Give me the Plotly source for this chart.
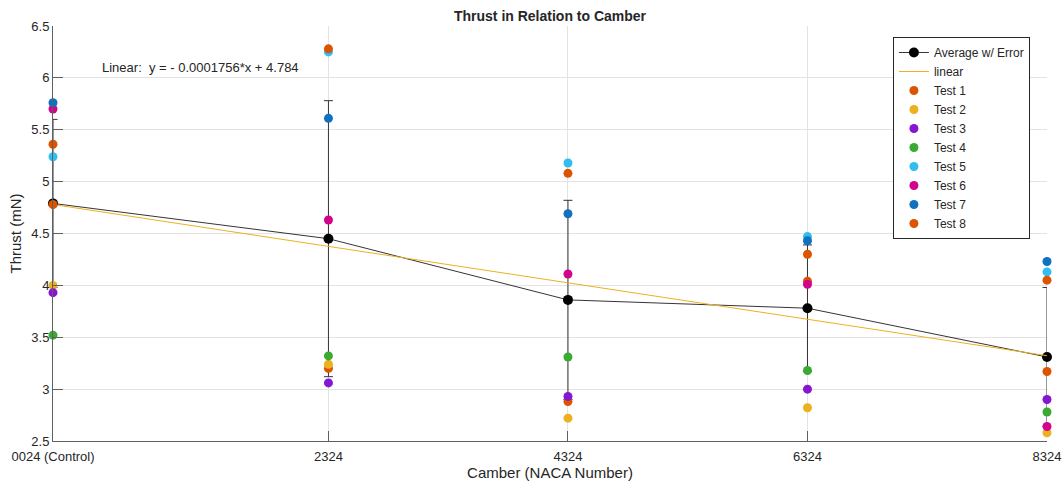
import plotly.graph_objects as go

# ---- data ----
camber_x = [24, 2324, 4324, 6324, 8324]
camber_labels = ["0024 (Control)", "2324", "4324", "6324", "8324"]

test_1 = [5.36, 3.20, 2.88, 4.04, 3.17]
test_2 = [4.00, 3.24, 2.72, 2.82, 2.58]
test_3 = [3.93, 3.06, 2.93, 3.00, 2.90]
test_4 = [3.52, 3.32, 3.31, 3.18, 2.78]
test_5 = [5.24, 6.25, 5.18, 4.47, 4.13]
test_6 = [5.70, 4.63, 4.11, 4.01, 2.64]
test_7 = [5.76, 5.61, 4.69, 4.43, 4.23]
test_8 = [4.78, 6.28, 5.08, 4.30, 4.05]

average = [4.79, 4.45, 3.86, 3.78, 3.31]
avg_error = [0.81, 1.33, 0.96, 0.61, 0.67]

fit_slope = -0.0001756
fit_intercept = 4.784

test_names = ["Test 1", "Test 2", "Test 3", "Test 4", "Test 5", "Test 6", "Test 7", "Test 8"]
test_values = [test_1, test_2, test_3, test_4, test_5, test_6, test_7, test_8]
test_colors = ["#DD5400", "#EDB120", "#8516D1", "#3BAA32", "#2FBEEF", "#D1048B", "#1171BE", "#DD5400"]

FONT = "Liberation Sans, Arial, Helvetica, sans-serif"
TXT = "#262626"

fig = go.Figure()

fig.add_trace(go.Scatter(
    x=camber_x, y=average, mode="lines+markers", name="Average w/ Error",
    line=dict(color="#000000", width=0.8),
    marker=dict(color="#000000", size=10),
    error_y=dict(type="data", array=avg_error, visible=True, color="#333333", thickness=1, width=4.5),
    cliponaxis=False,
))

fit_x = [camber_x[0], camber_x[-1]]
fit_y = [fit_slope * v + fit_intercept for v in fit_x]
fig.add_trace(go.Scatter(
    x=fit_x, y=fit_y, mode="lines", name="linear",
    line=dict(color="#EDB120", width=1),
))

for name, vals, col in zip(test_names, test_values, test_colors):
    fig.add_trace(go.Scatter(
        x=camber_x, y=vals, mode="markers", name=name,
        marker=dict(color=col, size=9),
        cliponaxis=False,
    ))

fig.add_annotation(
    x=420, y=6.1, xref="x", yref="y", xanchor="left", yanchor="middle",
    text="Linear:  y = - 0.0001756*x + 4.784", showarrow=False,
    font=dict(family=FONT, size=13, color=TXT),
)

fig.update_layout(
    width=1063, height=482,
    margin=dict(l=53, r=16, t=26, b=41),
    paper_bgcolor="white", plot_bgcolor="white",
    font=dict(family=FONT, size=13, color=TXT),
    title=dict(text="<b>Thrust in Relation to Camber</b>", x=0.5, xref="paper",
               y=1 - 16 / 482, yref="container", yanchor="middle",
               font=dict(family=FONT, size=14, color=TXT)),
    showlegend=True,
    legend=dict(x=0.845, y=0.9735, xanchor="left", yanchor="top",
                bgcolor="white", bordercolor=TXT, borderwidth=1,
                font=dict(family=FONT, size=12, color=TXT),
                tracegroupgap=0, itemwidth=30),
)

fig.update_xaxes(
    range=[camber_x[0], camber_x[-1]],
    tickmode="array", tickvals=camber_x, ticktext=camber_labels,
    showgrid=True, gridcolor="#E3E3E3", gridwidth=1,
    showline=True, linecolor="#606060", linewidth=1,
    ticks="inside", ticklen=10, tickcolor="#606060", tickwidth=1,
    ticklabelstandoff=3,
    zeroline=False, tickfont=dict(size=13, color=TXT),
    title=dict(text="Camber (NACA Number)", font=dict(size=15, color=TXT), standoff=0),
    automargin=False,
)
fig.update_yaxes(
    range=[2.5, 6.5], dtick=0.5, tick0=2.5,
    showgrid=True, gridcolor="#E3E3E3", gridwidth=1,
    showline=True, linecolor="#606060", linewidth=1,
    ticks="inside", ticklen=10, tickcolor="#606060", tickwidth=1,
    zeroline=False, tickfont=dict(size=13, color=TXT),
    title=dict(text="Thrust (mN)", font=dict(size=15, color=TXT), standoff=6),
    automargin=False,
)

fig.write_html("out.html")
